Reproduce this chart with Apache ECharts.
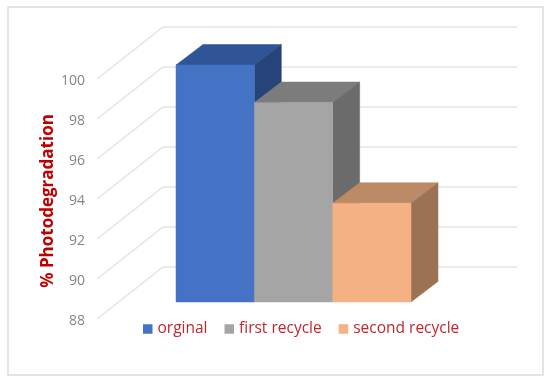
<!DOCTYPE html>
<html>
<head>
<meta charset="utf-8">
<style>html,body{margin:0;padding:0;background:#fff}#c{width:550px;height:384px}</style>
<script src="https://cdn.jsdelivr.net/npm/echarts@6/dist/echarts.min.js"></script>
</head>
<body>
<div id="c"></div>
<script>
const categories = ["orginal", "first recycle", "second recycle"];
const values = [100, 98.1, 93];
const ticks = [88, 90, 92, 94, 96, 98, 100];
const frontColors = ["#4472c4", "#a5a5a5", "#f4b183"];
const topColors = ["#2f5597", "#7c7c7c", "#bd8a66"];
const sideColors = ["#264478", "#6b6b6b", "#9c7254"];

const DEPTH_X = 27, DEPTH_Y = -20.5;
const WALL_X = -66, WALL_Y = 52;

function box(i) {
  return function (params, api) {
    const top = api.coord([api.value(0), api.value(1)]);
    const base = api.coord([api.value(0), 88]);
    const w = api.size([1, 0])[0];
    const x0 = top[0] - w / 2, x1 = top[0] + w / 2, yt = top[1], yb = base[1];
    const poly = (pts, fill) => ({ type: "polygon", shape: { points: pts }, style: { fill: fill, stroke: fill, lineWidth: 0.5 } });
    return {
      type: "group",
      children: [
        poly([[x0, yt], [x1, yt], [x1 + DEPTH_X, yt + DEPTH_Y], [x0 + DEPTH_X, yt + DEPTH_Y]], topColors[i]),
        poly([[x1, yt], [x1 + DEPTH_X, yt + DEPTH_Y], [x1 + DEPTH_X, yb + DEPTH_Y], [x1, yb]], sideColors[i]),
        poly([[x0, yt], [x1, yt], [x1, yb], [x0, yb]], frontColors[i])
      ]
    };
  };
}

const barSeries = categories.map((name, i) => ({
  type: "custom",
  name: name,
  xAxisIndex: 1,
  yAxisIndex: 1,
  z: 5,
  clip: false,
  itemStyle: { color: frontColors[i] },
  encode: { x: 0, y: 1 },
  data: [[name, values[i]]],
  renderItem: box(i)
}));

const wallLines = {
  type: "custom",
  xAxisIndex: 0,
  yAxisIndex: 0,
  z: 1,
  clip: false,
  silent: true,
  encode: { x: 0, y: 1 },
  data: ticks.map(t => [0, t]),
  renderItem: function (params, api) {
    const p = api.coord([0, api.value(1)]);
    return {
      type: "line",
      shape: { x1: p[0], y1: p[1], x2: p[0] + WALL_X, y2: p[1] + WALL_Y },
      style: { stroke: "#e2e2e2", lineWidth: 1.3 }
    };
  }
};

const chart = echarts.init(document.getElementById("c"), null, { renderer: "canvas" });
chart.setOption({
  animation: false,
  backgroundColor: "#ffffff",
  graphic: [{
    type: "rect", z: -1, silent: true,
    shape: { x: 8, y: 7, width: 535, height: 368 },
    style: { fill: "#ffffff", stroke: "#dcdcdc", lineWidth: 1.5 }
  }],
  grid: [
    { left: 163, right: 33, top: 27, height: 240 },
    { left: 176, width: 235, top: 65, height: 237 },
    { left: 97, width: 10, top: 81, height: 240 }
  ],
  xAxis: [
    { type: "value", gridIndex: 0, min: 0, max: 1, show: false },
    { type: "category", gridIndex: 1, data: categories, show: false },
    { type: "value", gridIndex: 2, min: 0, max: 1, show: false }
  ],
  yAxis: [
    {
      type: "value", gridIndex: 0, min: 88, max: 100, interval: 2,
      axisLine: { show: false }, axisTick: { show: false }, axisLabel: { show: false },
      splitLine: { show: true, lineStyle: { color: "#e4e4e4", width: 1.5 } }
    },
    { type: "value", gridIndex: 1, min: 88, max: 100, interval: 2, show: false },
    {
      type: "value", gridIndex: 2, min: 88, max: 100, interval: 2,
      axisLine: { show: false }, axisTick: { show: false }, splitLine: { show: false },
      axisLabel: { margin: 12, color: "#858585", fontSize: 14, fontFamily: "Open Sans" },
      name: "% Photodegradation", nameLocation: "middle", nameGap: 40, nameRotate: 90,
      nameTextStyle: { color: "#c00000", fontSize: 17, fontWeight: "bold", fontFamily: "Open Sans" }
    }
  ],
  legend: {
    show: true,
    data: categories,
    left: 138, top: 316,
    icon: "rect", itemWidth: 9.5, itemHeight: 9.5, itemGap: 17,
    selectedMode: false,
    textStyle: { color: "#c0272d", fontSize: 15.5, fontFamily: "Open Sans" }
  },
  series: [wallLines].concat(barSeries)
});
</script>
</body>
</html>
